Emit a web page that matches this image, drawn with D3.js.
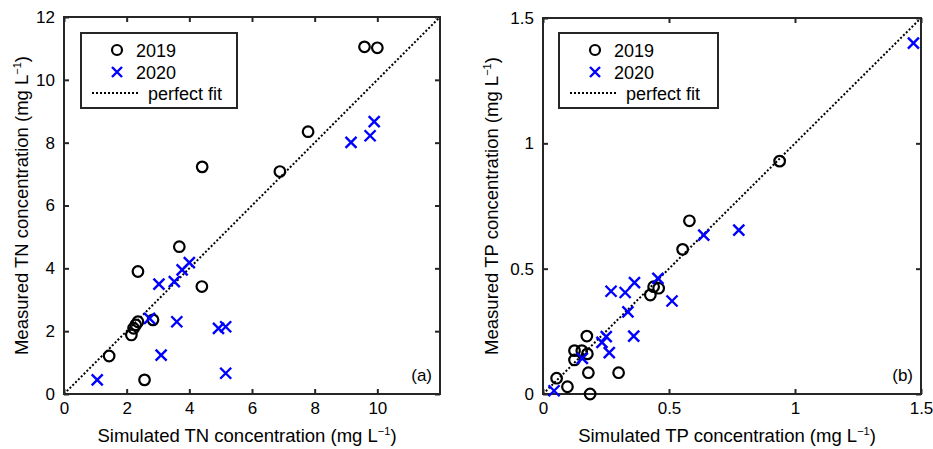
<!DOCTYPE html>
<html>
<head>
<meta charset="utf-8">
<script src="https://cdn.jsdelivr.net/npm/d3@7"></script>
<style>
  body { margin: 0; background: #fff; }
  svg { font-family: "Liberation Sans", Arial, sans-serif; }
</style>
</head>
<body>
<svg id="chart" width="933" height="449"></svg>
<script>
// panel (a): TN, mg/L
var tn2019 = [
    [1.44, 1.21], [2.15, 1.88], [2.22, 2.09], [2.29, 2.20], [2.36, 2.30],
    [2.36, 3.90], [2.57, 0.45], [2.84, 2.36], [3.68, 4.69], [4.40, 3.42],
    [4.41, 7.23], [6.89, 7.08], [7.79, 8.35], [9.59, 11.05], [10.0, 11.02]
];
var tn2020 = [
    [1.06, 0.45], [2.73, 2.41], [3.03, 3.50], [3.10, 1.24], [3.52, 3.58],
    [3.60, 2.30], [3.77, 3.95], [4.00, 4.18], [4.93, 2.09], [5.16, 2.14],
    [5.16, 0.66], [9.16, 8.01], [9.77, 8.22], [9.90, 8.67]
];
// panel (b): TP, mg/L
var tp2019 = [
    [0.054, 0.063], [0.097, 0.029], [0.187, 0.0], [0.30, 0.085], [0.18, 0.085],
    [0.174, 0.231], [0.125, 0.173], [0.125, 0.136], [0.154, 0.173], [0.176, 0.16],
    [0.426, 0.395], [0.439, 0.428], [0.459, 0.422], [0.554, 0.577], [0.581, 0.691],
    [0.939, 0.929]
];
var tp2020 = [
    [0.044, 0.013], [0.156, 0.142], [0.234, 0.206], [0.251, 0.229], [0.263, 0.165],
    [0.27, 0.41], [0.326, 0.405], [0.337, 0.328], [0.36, 0.231], [0.363, 0.444],
    [0.456, 0.461], [0.512, 0.371], [0.638, 0.634], [0.777, 0.654], [1.47, 1.40]
];
var tnTicksX = [0, 2, 4, 6, 8, 10];
var tnTicksY = [0, 2, 4, 6, 8, 10, 12];
var tpTicks = [0, 0.5, 1, 1.5];
var legendLabels = ["2019", "2020", "perfect fit"];

var svg = d3.select("#chart");
var axisColor = "#262626";

function panel(opts) {
    var x = d3.scaleLinear().domain(opts.domain).range([opts.left, opts.right]);
    var y = d3.scaleLinear().domain(opts.domain).range([opts.bottom, opts.top]);
    var g = svg.append("g");

    // perfect fit line
    g.append("line")
        .attr("x1", x(opts.domain[0])).attr("y1", y(opts.domain[0]))
        .attr("x2", x(opts.domain[1])).attr("y2", y(opts.domain[1]))
        .attr("stroke", "#000").attr("stroke-width", 2)
        .attr("stroke-dasharray", "2,2");

    // ticks on all four sides, pointing inward
    g.append("g").attr("transform", `translate(0,${opts.bottom})`)
        .call(d3.axisBottom(x).tickValues(opts.ticksX).tickSize(-5).tickPadding(8).tickFormat(d3.format("")));
    g.append("g").attr("transform", `translate(0,${opts.top})`)
        .call(d3.axisTop(x).tickValues(opts.ticksX).tickSize(-5).tickFormat(""));
    g.append("g").attr("transform", `translate(${opts.left},0)`)
        .call(d3.axisLeft(y).tickValues(opts.ticksY).tickSize(-5).tickPadding(9).tickFormat(d3.format("")));
    g.append("g").attr("transform", `translate(${opts.right},0)`)
        .call(d3.axisRight(y).tickValues(opts.ticksY).tickSize(-5).tickFormat(""));
    g.selectAll(".domain").remove();
    g.selectAll(".tick line").attr("stroke", axisColor).attr("stroke-width", 2);
    g.selectAll(".tick text").attr("fill", "#000").style("font-size", "17px");

    g.append("rect")
        .attr("x", opts.left).attr("y", opts.top)
        .attr("width", opts.right - opts.left).attr("height", opts.bottom - opts.top)
        .attr("fill", "none").attr("stroke", axisColor).attr("stroke-width", 2);

    // 2019 circles
    g.append("g").selectAll("circle")
        .data(opts.s2019)
        .join("circle")
        .attr("cx", d => x(d[0])).attr("cy", d => y(d[1]))
        .attr("r", 5.3)
        .attr("fill", "none").attr("stroke", "#000").attr("stroke-width", 2.2);

    // 2020 crosses
    g.append("g").selectAll("path")
        .data(opts.s2020)
        .join("path")
        .attr("d", d => {
            var cx = x(d[0]), cy = y(d[1]), s = 5.5;
            return `M${cx - s},${cy - s}L${cx + s},${cy + s}M${cx - s},${cy + s}L${cx + s},${cy - s}`;
        })
        .attr("stroke", "#0000ff").attr("stroke-width", 2.4).attr("fill", "none");

    // legend
    var lx = opts.left + opts.legendDx, ly = 33;
    var lg = g.append("g");
    lg.append("rect").attr("x", lx).attr("y", ly).attr("width", opts.legendW).attr("height", 75)
        .attr("fill", "#fff").attr("stroke", axisColor).attr("stroke-width", 2);
    lg.append("circle").attr("cx", lx + 36).attr("cy", ly + 17).attr("r", 5)
        .attr("fill", "none").attr("stroke", "#000").attr("stroke-width", 2.2);
    lg.append("path")
        .attr("d", `M${lx + 31},${ly + 34}L${lx + 41},${ly + 44}M${lx + 31},${ly + 44}L${lx + 41},${ly + 34}`)
        .attr("stroke", "#0000ff").attr("stroke-width", 2.4);
    lg.append("line").attr("x1", lx + 11).attr("x2", lx + 59).attr("y1", ly + 60).attr("y2", ly + 60)
        .attr("stroke", "#000").attr("stroke-width", 2).attr("stroke-dasharray", "2,2");
    var ty = [ly + 24, ly + 46, ly + 67];
    var tx = [lx + 55, lx + 55, lx + 67];
    legendLabels.forEach((t, i) => {
        lg.append("text").attr("x", tx[i]).attr("y", ty[i]).style("font-size", "18px").text(t);
    });

    // panel label
    g.append("text").attr("x", opts.right - 8).attr("y", opts.bottom - 13)
        .attr("text-anchor", "end").style("font-size", "17px").text(opts.tag);

    // axis titles
    var xt = g.append("text")
        .attr("x", (opts.left + opts.right) / 2 - 5).attr("y", 442)
        .attr("text-anchor", "middle").style("font-size", "18.5px");
    xt.append("tspan").text(`Simulated ${opts.name} concentration (mg L`);
    xt.append("tspan").attr("dy", -7).style("font-size", "11px").text("\u2212" + "1");
    xt.append("tspan").attr("dy", 7).text(")");

    var yt = g.append("text")
        .attr("transform", `translate(${opts.left - opts.ytDx},${(opts.top + opts.bottom) / 2}) rotate(-90)`)
        .attr("text-anchor", "middle").style("font-size", "18.5px");
    yt.append("tspan").text(`Measured ${opts.name} concentration (mg L`);
    yt.append("tspan").attr("dy", -7).style("font-size", "11px").text("\u2212" + "1");
    yt.append("tspan").attr("dy", 7).text(")");
}

panel({
    left: 64, right: 440, top: 17, bottom: 394,
    domain: [0, 12], ticksX: tnTicksX, ticksY: tnTicksY,
    s2019: tn2019, s2020: tn2020,
    legendDx: 17, legendW: 156, tag: "(a)", name: "TN", ytDx: 36
});
panel({
    left: 543, right: 921, top: 18, bottom: 394,
    domain: [0, 1.5], ticksX: tpTicks, ticksY: tpTicks,
    s2019: tp2019, s2020: tp2020,
    legendDx: 16, legendW: 159, tag: "(b)", name: "TP", ytDx: 45
});
</script>
</body>
</html>
